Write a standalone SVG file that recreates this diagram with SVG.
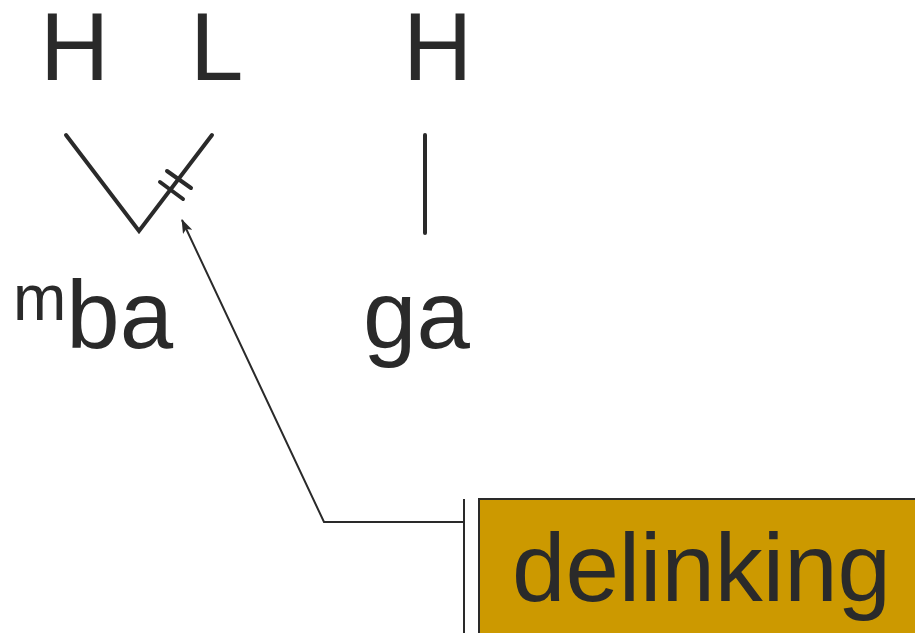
<svg xmlns="http://www.w3.org/2000/svg" width="915" height="633" viewBox="0 0 915 633">
<style>
.t{font-family:"Liberation Sans",Arial,sans-serif;font-size:96px;fill:#2a2a2a}
.a{stroke:#2a2a2a;stroke-width:4;stroke-linecap:round;fill:none}
.c{stroke:#2a2a2a;stroke-width:2;fill:none}
</style>
<defs>
<marker id="ah" markerWidth="14" markerHeight="10" refX="13" refY="5" orient="auto" markerUnits="userSpaceOnUse">
<path d="M0,0 L14,5 L0,10 L3,5 Z" fill="#2a2a2a"/>
</marker>
</defs>
<rect width="915" height="633" fill="#fff"/>
<g id="tone-H1"><text class="t" x="40" y="80">H</text></g>
<g id="tone-L"><text class="t" x="190" y="80">L</text></g>
<g id="tone-H2"><text class="t" x="403" y="80">H</text></g>
<g id="syl-mba"><text class="t" x="13" y="348"><tspan font-size="64" dy="-28">m</tspan><tspan dy="28">ba</tspan></text></g>
<g id="syl-ga"><text class="t" x="363" y="348">ga</text></g>
<g id="delinking">
<rect x="479" y="499" width="450" height="150" fill="#cc9900" stroke="#2a2a2a" stroke-width="2"/>
<text class="t" x="512" y="601">delinking</text>
</g>
<g id="connectors">
<path class="a" d="M66,135 L139,231 L212,135"/>
<path class="a" stroke-width="3" d="M160,182 L183,199 M167,171 L191,188"/>
<path class="a" d="M425,135 L425,233"/>
<path class="c" d="M464,499 L464,633"/>
<path class="c" d="M464,522 L324,522 L182,220" marker-end="url(#ah)"/>
</g>
</svg>
